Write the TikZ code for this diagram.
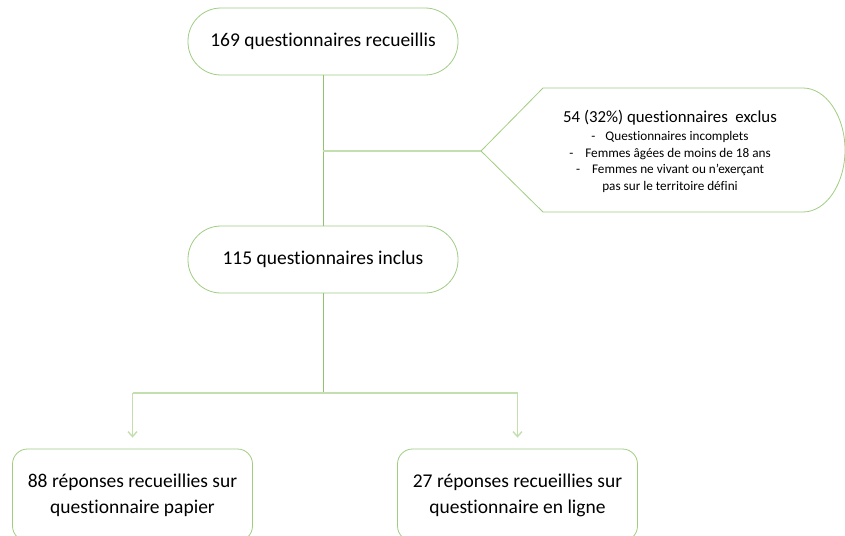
\documentclass[tikz,border=0pt]{standalone}
\usepackage{fontspec}
\setmainfont{Carlito}[Ligatures=NoCommon]
\usetikzlibrary{arrows.meta}
\definecolor{boxgreen}{RGB}{160,205,130}
\definecolor{trunkgreen}{RGB}{145,195,110}
\definecolor{branchgreen}{RGB}{195,223,175}

\begin{document}
\begin{tikzpicture}[x=1pt,y=-1pt,
  pill/.style={draw=boxgreen,line width=0.8pt,rounded corners=33pt,minimum width=270pt,minimum height=67pt,font=\fontsize{19.5}{24}\selectfont},
  answer/.style={draw=boxgreen,line width=0.8pt,rounded corners=15pt,minimum width=240pt,minimum height=92pt,align=center,font=\fontsize{19.5}{26}\selectfont},
  trunk/.style={draw=trunkgreen,line width=0.9pt},
  branch/.style={draw=branchgreen,line width=1.4pt},
  ]
  \useasboundingbox (0,0) rectangle (845,535);
  \clip (0,0) rectangle (845,535);
  % main column
  \node[pill] (recu) at (323,41.5) {169 questionnaires recueillis};
  \node[pill] (incl) at (323,259.5) {115 questionnaires inclus};
  \coordinate (split) at (323,393);
  % exclusion box
  \coordinate (tip) at (481,151);
  \draw[boxgreen,line width=0.8pt] (tip) -- (543,88) -- (803,88)
    .. controls (826,88) and (845,116) .. (845,150)
    .. controls (845,184) and (826,212) .. (803,212) -- (543,212) -- cycle;
  \node[align=center,font=\fontsize{13.2}{16.5}\selectfont] (excl) at (670,151)
    {{\fontsize{16.8}{20}\selectfont 54 (32\%) questionnaires\ \ exclus}\\[2pt]
     -\hspace{10pt}Questionnaires incomplets\\
     -\hspace{12pt}Femmes âgées de moins de 18 ans\\
     -\hspace{12pt}Femmes ne vivant ou n’exerçant\\
     pas sur le territoire défini};
  % bottom boxes
  \node[answer] (papier) at (132.5,495) {88 réponses recueillies sur\\questionnaire papier};
  \node[answer] (ligne) at (517.5,495) {27 réponses recueillies sur\\questionnaire en ligne};
  % connectors
  \draw[trunk] (recu) -- (incl);
  \draw[trunk] (incl) -- (split);
  \draw[branch] (recu.south |- tip) -- (tip);
  \draw[branch] (papier.north |- split) -- (ligne.north |- split);
  \foreach \b in {papier,ligne} {
    \draw[branch,-{Straight Barb[length=5pt,width=9pt]}] (\b.north |- split) -- ([yshift=11pt]\b.north);
  }
\end{tikzpicture}
\end{document}
